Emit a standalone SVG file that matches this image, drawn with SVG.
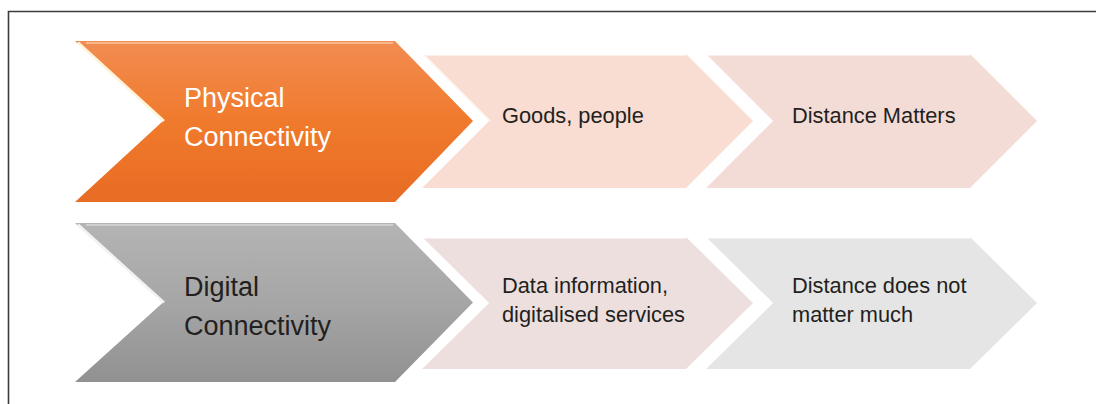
<svg xmlns="http://www.w3.org/2000/svg" width="1096" height="404" viewBox="0 0 1096 404">
<style>
.big{font-family:"Liberation Sans","DejaVu Sans",sans-serif;font-size:27px}
.sm{font-family:"Liberation Sans","DejaVu Sans",sans-serif;font-size:21.8px;fill:#231F20}
.hl{fill:none;stroke:#ffffff;stroke-width:3;stroke-linejoin:miter}
.hl2{fill:none;stroke:#ffffff;stroke-width:1.2;opacity:0.8}
</style>
<defs>
<linearGradient id="gOr" x1="0" y1="0" x2="0" y2="1">
<stop offset="0" stop-color="#F28C52"/>
<stop offset="0.5" stop-color="#F07A2C"/>
<stop offset="1" stop-color="#E86C24"/>
</linearGradient>
<linearGradient id="gGr" x1="0" y1="0" x2="0" y2="1">
<stop offset="0" stop-color="#B3B4B3"/>
<stop offset="0.5" stop-color="#A6A6A6"/>
<stop offset="1" stop-color="#919191"/>
</linearGradient>
</defs>
<rect width="1096" height="404" fill="#ffffff"/>
<g id="frame">
<path d="M8.5 404 V11.5 H1096" fill="none" stroke="#3C3C3C" stroke-width="1.6"/>
</g>
<g id="connectors"></g>

<g id="goods">
<polygon points="420,54 686,54 753,121 686,188 420,188 487,121" fill="#F9DCD2"/>
<polyline class="hl" points="420,188 487,121 420,54 686,54"/>
<polyline class="hl2" points="425,56 490,121" stroke="#F3C9BB"/>
<text class="sm" x="502" y="123">Goods, people</text>
</g>
<g id="distance-matters">
<polygon points="704,54 970,54 1037,121 970,188 704,188 771,121" fill="#F4DCD6"/>
<polyline class="hl" points="704,188 771,121 704,54 970,54"/>
<text class="sm" x="792" y="123">Distance Matters</text>
</g>
<g id="physical">
<polygon points="75,41 395,41 473,121 395,202 75,202 163,121" fill="url(#gOr)"/>
<polyline points="78,42.5 164,121" fill="none" stroke="#FFF4D8" stroke-width="2.5"/>
<line x1="86" y1="43" x2="393" y2="43" stroke="#F9B88A" stroke-width="2"/>
<text class="big" x="184" y="107" fill="#ffffff">Physical</text>
<text class="big" x="184" y="146" fill="#ffffff">Connectivity</text>
</g>

<g id="data">
<polygon points="420,237 686,237 753,303 686,369 420,369 487,303" fill="#EEDFDF"/>
<polyline class="hl" points="420,369 487,303 420,237 686,237"/>
<text class="sm" x="502" y="293">Data information,</text>
<text class="sm" x="502" y="322">digitalised services</text>
</g>
<g id="distance-not">
<polygon points="704,237 970,237 1037,303 970,369 704,369 771,303" fill="#E5E5E5"/>
<polyline class="hl" points="704,369 771,303 704,237 970,237"/>
<text class="sm" x="792" y="293">Distance does not</text>
<text class="sm" x="792" y="322">matter much</text>
</g>
<g id="digital">
<polygon points="75,223 395,223 473,302.5 395,382 75,382 163,302.5" fill="url(#gGr)"/>
<polyline points="78,224.5 164,302.5" fill="none" stroke="#F2F2F2" stroke-width="2.5"/>
<line x1="86" y1="225" x2="393" y2="225" stroke="#CFCFCF" stroke-width="2"/>
<text class="big" x="184" y="296" fill="#231F20">Digital</text>
<text class="big" x="184" y="335" fill="#231F20">Connectivity</text>
</g>
</svg>
